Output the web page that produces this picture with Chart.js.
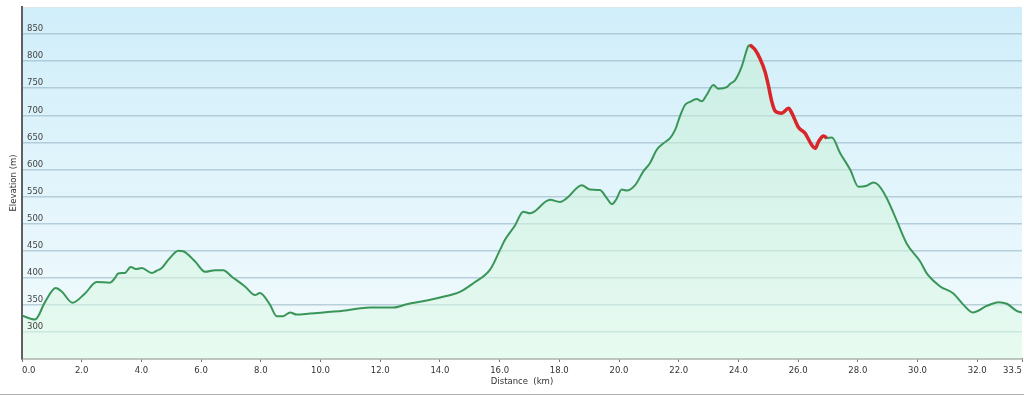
<!DOCTYPE html>
<html>
<head>
<meta charset="utf-8">
<script src="https://cdn.jsdelivr.net/npm/chart.js@4.4.0/dist/chart.umd.min.js"></script>
<style>
  html, body { margin: 0; padding: 0; background: #fff; }
  #wrap { width: 1024px; height: 394px; border-bottom: 1px solid #b0b0b0; }
</style>
</head>
<body>
<div id="wrap"><canvas id="profile"></canvas></div>
<script>
// elevation profile
const distanceKm = [
  0.00, 0.44, 0.77, 1.13, 1.34, 1.69, 2.11, 2.50, 2.95, 3.12,
  3.22, 3.45, 3.64, 3.84, 4.01, 4.35, 4.51, 4.68, 4.90, 5.24,
  5.40, 5.80, 6.13, 6.47, 6.74, 7.03, 7.47, 7.81, 7.97, 8.31,
  8.53, 8.75, 8.98, 9.20, 9.65, 10.76, 11.66, 12.44, 12.89, 13.56,
  14.11, 14.67, 15.12, 15.68, 16.01, 16.18, 16.52, 16.79, 17.02, 17.13,
  17.69, 18.02, 18.25, 18.75, 19.03, 19.36, 19.59, 19.76, 19.90, 20.09,
  20.26, 20.54, 20.81, 21.04, 21.26, 21.48, 21.71, 21.88, 22.04, 22.21,
  22.38, 22.60, 22.77, 22.94, 23.16, 23.33, 23.61, 23.72, 23.89, 24.11,
  24.33, 24.39, 24.56, 24.72, 24.89, 25.00, 25.12, 25.23, 25.45, 25.68,
  25.79, 26.01, 26.23, 26.46, 26.57, 26.68, 26.85, 26.96, 27.13, 27.41,
  27.75, 28.02, 28.30, 28.52, 28.69, 28.97, 29.30, 29.64, 30.09, 30.31,
  30.76, 31.20, 31.54, 31.85, 32.32, 32.71, 32.99, 33.32, 33.50
];
const elevationM = [
  330, 323, 355, 381, 374, 354, 371, 392, 391, 400,
  408, 409, 420, 416, 418, 409, 413, 418, 433, 450,
  449, 430, 411, 414, 414, 402, 384, 368, 372, 350,
  329, 329, 336, 332, 334, 339, 345, 345, 351, 358,
  365, 374, 390, 415, 451, 470, 497, 522, 519, 521,
  544, 540, 547, 571, 563, 562, 547, 536, 544, 563,
  561, 571, 596, 612, 636, 648, 658, 673, 698, 719,
  725, 730, 726, 738, 756, 749, 752, 758, 765, 790,
  828, 830, 821, 805, 781, 756, 725, 708, 704, 713,
  704, 678, 667, 645, 639, 651, 662, 658, 659, 630,
  599, 568, 570, 576, 571, 547, 506, 463, 430, 408,
  384, 371, 350, 336, 348, 355, 352, 339, 336
];

// highlighted stretch (red)
const highlightFromKm = 24.39;
const highlightToKm = 26.96;

const distanceTicks = [0, 2, 4, 6, 8, 10, 12, 14, 16, 18, 20, 22, 24, 26, 28, 30, 32, 33.5];
const elevationTicks = [300, 350, 400, 450, 500, 550, 600, 650, 700, 750, 800, 850];

const profilePoints = distanceKm.map((d, i) => ({ x: d, y: elevationM[i] }));
const highlightPoints = profilePoints.filter(p => p.x >= highlightFromKm && p.x <= highlightToKm);

const labelFont = { family: 'DejaVu Sans', size: 8.5 };

// plot background: blue at the top fading out
const plotBackground = {
  id: 'plotBackground',
  beforeDraw(chart) {
    const { ctx, chartArea: a } = chart;
    const g = ctx.createLinearGradient(0, a.top, 0, a.bottom);
    g.addColorStop(0, '#d0eefa');
    g.addColorStop(1, '#f3fbfd');
    ctx.save();
    ctx.fillStyle = g;
    ctx.fillRect(a.left, a.top, a.right - a.left, a.bottom - a.top);
    ctx.strokeStyle = '#dde6ea';
    ctx.lineWidth = 1;
    ctx.beginPath();
    ctx.moveTo(a.left, a.top + 0.5);
    ctx.lineTo(a.right, a.top + 0.5);
    ctx.stroke();
    ctx.restore();
  }
};

// green wash under the profile, light enough to let the grid show
function fillGradient(context) {
  const a = context.chart.chartArea;
  if (!a) return 'rgba(215,248,225,0.5)';
  const g = context.chart.ctx.createLinearGradient(0, a.top, 0, a.bottom);
  g.addColorStop(0, 'rgba(190,236,205,0.5)');
  g.addColorStop(1, 'rgba(222,250,230,0.55)');
  return g;
}

new Chart(document.getElementById('profile'), {
  type: 'line',
  data: {
    datasets: [
      {
        label: 'highlight',
        data: highlightPoints,
        borderColor: '#d8262a',
        borderWidth: 3.5,
        pointRadius: 0,
        fill: false,
        cubicInterpolationMode: 'monotone',
        order: 0
      },
      {
        label: 'elevation',
        data: profilePoints,
        borderColor: '#3a9658',
        borderWidth: 2,
        pointRadius: 0,
        fill: 'start',
        backgroundColor: fillGradient,
        cubicInterpolationMode: 'monotone',
        order: 1
      }
    ]
  },
  options: {
    responsive: true,
    maintainAspectRatio: false,
    animation: false,
    layout: { padding: { top: 7, right: 2, left: 0, bottom: 0 } },
    plugins: {
      legend: { display: false },
      tooltip: { enabled: false }
    },
    scales: {
      x: {
        type: 'linear',
        min: 0,
        max: 33.5,
        afterBuildTicks: scale => { scale.ticks = distanceTicks.map(v => ({ value: v })); },
        afterFit: scale => { scale.height = 35; scale.paddingLeft = 0; scale.paddingRight = 0; },
        ticks: {
          font: labelFont,
          color: '#333',
          padding: 4,
          maxRotation: 0,
          autoSkip: false,
          callback: v => {
            const s = v.toFixed(1);
            if (v === 0) return '     ' + s;
            if (v === 33.5) return s + '       ';
            return s;
          }
        },
        grid: { drawOnChartArea: false, drawTicks: true, tickLength: 3, color: '#777', lineWidth: 1 },
        border: { color: '#8a8a8a', width: 1.5 },
        title: {
          display: true,
          text: 'Distance  (km)',
          font: labelFont,
          color: '#333',
          padding: { top: 0, bottom: 7 }
        }
      },
      y: {
        type: 'linear',
        min: 250,
        max: 900,
        afterBuildTicks: scale => { scale.ticks = elevationTicks.map(v => ({ value: v })); },
        afterFit: scale => { scale.width = 22; scale.paddingTop = 0; scale.paddingBottom = 0; },
        ticks: {
          z: 1,
          mirror: true,
          font: labelFont,
          color: '#444',
          padding: 5,
          labelOffset: -5,
          callback: v => String(v)
        },
        grid: { color: 'rgba(150,180,196,0.6)', lineWidth: 1.5, drawTicks: false },
        border: { z: 1, color: '#606060', width: 2 },
        title: {
          display: true,
          text: 'Elevation (m)',
          font: labelFont,
          color: '#333',
          padding: { top: 9, bottom: 0 }
        }
      }
    }
  },
  plugins: [plotBackground]
});
</script>
</body>
</html>
